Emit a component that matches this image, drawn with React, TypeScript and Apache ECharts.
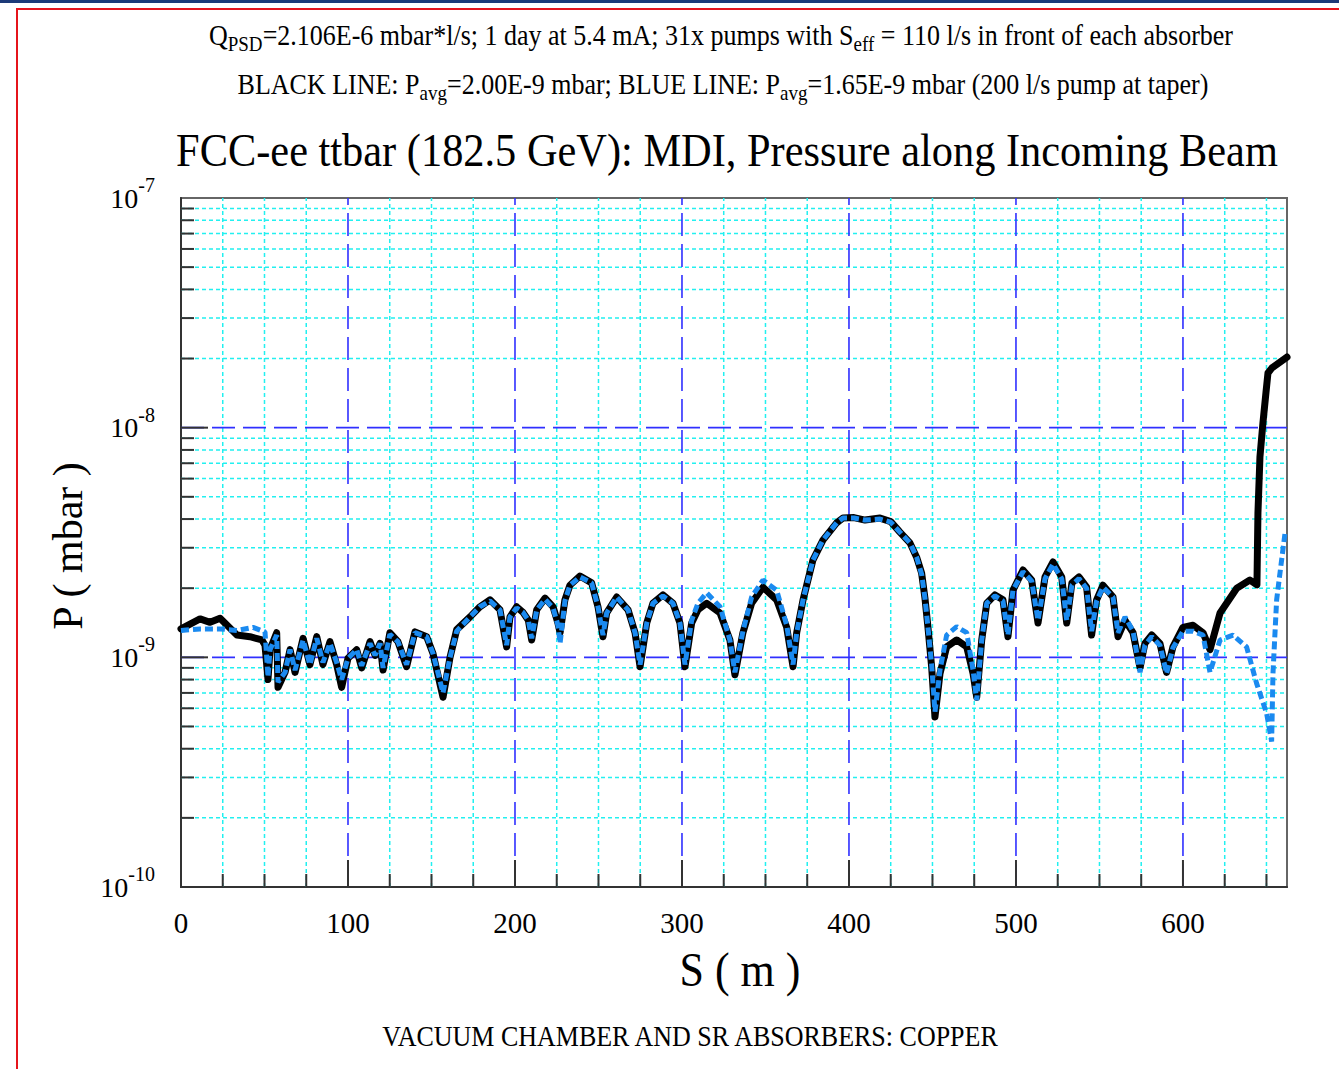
import React, { useEffect, useRef } from "react";
import * as echarts from "echarts";

// ---------- data (S in m, P in units of 1e-9 mbar) ----------
const S_BLACK = [
  0, 11.4, 17.4, 23.4, 33.5, 41.3, 48.5, 50.3, 52.1, 53.3, 57.3, 58.1, 62.3, 65.3, 68.3, 73.1, 77.2, 81.3, 85.0, 89.2,
  93.2, 96.2, 100.0, 105.2, 108.2, 113.2, 116.2, 119.2, 121.0, 125.1, 129.9, 135.1, 140.1, 147.1, 150.9, 156.9, 161.1,
  165.1, 173.1, 179.0, 185.0, 191.0, 195.0, 197.0, 201.0, 204.8, 208.0, 210.0, 213.0, 218.0, 222.8, 225.7, 227.0, 229.9,
  232.9, 238.9, 245.9, 249.7, 252.7, 254.9, 260.9, 267.7, 271.9, 274.9, 278.9, 282.6, 288.6, 294.6, 298.8, 301.8, 305.8,
  309.6, 314.8, 322.8, 328.7, 331.7, 336.5, 341.7, 348.5, 356.7, 362.7, 366.5, 368.7, 372.5, 378.4, 384.4, 392.6, 396.4,
  403.0, 409.6, 418.6, 425.0, 430.5, 436.5, 440.5, 443.5, 445.5, 447.3, 449.5, 451.5, 454.5, 458.5, 464.5, 470.5, 474.3,
  476.5, 479.5, 482.5, 487.4, 492.2, 495.2, 498.2, 504.2, 509.4, 513.2, 517.4, 522.2, 527.4, 530.4, 533.5, 537.7, 542.3,
  545.3, 548.3, 552.1, 558.1, 561.1, 565.3, 570.1, 574.3, 577.2, 581.3, 586.2, 590.2, 594.0, 600.0, 606.0, 612.0, 616.2,
  622.2, 632.2, 640.1, 644.3, 644.9, 646.1, 647.9, 649.7, 650.9, 653.3, 662.3,
];
const P_BLACK_E9 = [
  1.33, 1.47, 1.42, 1.48, 1.25, 1.23, 1.19, 1.13, 0.80, 1.08, 1.28, 0.74, 0.86, 1.08, 0.86, 1.21, 0.93, 1.23, 0.93, 1.17,
  0.93, 0.74, 0.99, 1.08, 0.90, 1.17, 1.02, 1.15, 0.88, 1.28, 1.17, 0.91, 1.29, 1.23, 1.04, 0.67, 1.00,
  1.32, 1.50, 1.66, 1.78, 1.61, 1.11, 1.50, 1.66, 1.57, 1.45, 1.19, 1.61, 1.81, 1.66, 1.41, 1.28, 1.78,
  2.06, 2.26, 2.11, 1.66, 1.23, 1.56, 1.83, 1.61, 1.28, 0.91, 1.41, 1.72, 1.87, 1.72, 1.41, 0.91, 1.41,
  1.61, 1.72, 1.56, 1.19, 0.84, 1.28, 1.72, 2.02, 1.78, 1.35, 0.91, 1.28, 1.78, 2.65, 3.24, 3.85, 4.04,
  4.06, 3.96, 4.04, 3.90, 3.51, 3.15, 2.73, 2.33, 1.81, 1.35, 0.91, 0.55, 0.85, 1.11, 1.19, 1.11, 0.85,
  0.67, 1.19, 1.72, 1.87, 1.78, 1.23, 1.96, 2.40, 2.17, 1.41, 2.24, 2.60, 2.24, 1.41, 2.11, 2.24, 2.02,
  1.25, 1.78, 2.06, 1.83, 1.23, 1.45, 1.28, 0.90, 1.15, 1.25, 1.15, 0.86, 1.11, 1.35, 1.38, 1.28, 1.08,
  1.56, 2.00, 2.17, 2.07, 4.25, 7.45, 10.5, 14.2, 17.3, 18.2, 20.3,
];
const S_BLUE = [
  0, 11.4, 23.4, 33.5, 43.1, 50.3, 52.1, 53.3, 57.3, 58.1, 62.3, 65.3, 68.3, 73.1, 77.2, 81.3, 85.0, 89.2,
  93.2, 96.2, 100.0, 105.2, 108.2, 113.2, 116.2, 119.2, 121.0, 125.1, 129.9, 135.1, 140.1, 147.1, 150.9, 156.9, 161.1,
  165.1, 173.1, 179.0, 185.0, 191.0, 195.0, 197.0, 201.0, 204.8, 208.0, 210.0, 213.0, 218.0, 222.8, 225.7, 227.0, 229.9,
  232.9, 238.9, 245.9, 249.7, 252.7, 254.9, 260.9, 267.7, 271.9, 274.9, 278.9, 282.6, 288.6, 294.6, 298.8, 301.8, 305.8,
  309.6, 314.8, 322.8, 328.7, 331.7, 336.5, 341.7, 348.5, 356.7, 362.7, 366.5, 368.7, 372.5, 378.4, 384.4, 392.6, 396.4,
  403.0, 409.6, 418.6, 425.0, 430.5, 436.5, 440.5, 443.5, 445.5, 447.3, 449.5, 451.5, 454.5, 458.5, 464.5, 470.5, 474.3,
  476.5, 479.5, 482.5, 487.4, 492.2, 495.2, 498.2, 504.2, 509.4, 513.2, 517.4, 522.2, 527.4, 530.4, 533.5, 537.7, 542.3,
  545.3, 548.3, 552.1, 558.1, 561.1, 565.3, 570.1, 574.3, 577.2, 581.3, 586.2, 590.2, 594.0, 600.0, 606.0, 612.0, 616.2,
  622.2, 630.0, 638.1, 644.1, 650.1, 653.1, 653.9, 656.1, 658.1, 661.1,
];
const P_BLUE_E9 = [
  1.31, 1.33, 1.33, 1.31, 1.35, 1.29, 0.82, 1.08, 1.25, 0.78, 0.86, 1.08, 0.88, 1.19, 0.93, 1.21, 0.95, 1.15,
  0.95, 0.80, 0.99, 1.08, 0.92, 1.15, 1.02, 1.15, 0.90, 1.26, 1.17, 0.93, 1.28, 1.23, 1.04, 0.70, 1.00,
  1.30, 1.50, 1.66, 1.76, 1.61, 1.13, 1.50, 1.64, 1.57, 1.45, 1.21, 1.61, 1.79, 1.64, 1.38, 1.15, 1.76,
  2.06, 2.24, 2.11, 1.66, 1.25, 1.56, 1.83, 1.61, 1.28, 0.93, 1.41, 1.72, 1.85, 1.72, 1.41, 0.93, 1.45,
  1.72, 1.91, 1.66, 1.19, 0.86, 1.30, 1.83, 2.17, 1.96, 1.38, 0.93, 1.28, 1.78, 2.65, 3.24, 3.85, 4.04,
  4.04, 3.96, 4.00, 3.88, 3.51, 3.15, 2.73, 2.30, 1.81, 1.35, 0.93, 0.58, 0.88, 1.25, 1.36, 1.28, 0.88,
  0.65, 1.19, 1.72, 1.85, 1.76, 1.25, 1.96, 2.36, 2.15, 1.45, 2.20, 2.55, 2.20, 1.45, 2.06, 2.20, 2.00,
  1.30, 1.76, 2.02, 1.83, 1.28, 1.50, 1.30, 0.86, 1.13, 1.23, 1.13, 0.85, 1.10, 1.30, 1.30, 1.25, 0.86,
  1.19, 1.25, 1.11, 0.77, 0.57, 0.43, 0.85, 1.78, 2.33, 3.47,
];

const X_MAJOR = [100, 200, 300, 400, 500, 600];
const X_MINOR = [25, 50, 75, 125, 150, 175, 225, 250, 275, 325, 350, 375, 425, 450, 475, 525, 550, 575, 625, 650];
const Y_MAJOR = [1e-9, 1e-8];
const Y_MINOR = [
  2e-10, 3e-10, 4e-10, 5e-10, 6e-10, 7e-10, 8e-10, 9e-10,
  2e-9, 3e-9, 4e-9, 5e-9, 6e-9, 7e-9, 8e-9, 9e-9,
  2e-8, 3e-8, 4e-8, 5e-8, 6e-8, 7e-8, 8e-8, 9e-8,
];
const X_MIN = 0;
const X_MAX = 662.3;
const Y_MIN = 1e-10;
const Y_MAX = 1e-7;

const SERIF = "'Liberation Serif', 'Times New Roman', serif";

function lineEl(a: number[], b: number[], style: any) {
  return { type: "line", shape: { x1: a[0], y1: a[1], x2: b[0], y2: b[1] }, style };
}

function vGrid(values: number[], style: any, z: number) {
  return {
    type: "custom",
    silent: true,
    z,
    data: values.map((v) => [v, Y_MIN]),
    renderItem: (_p: any, api: any) => {
      const v = api.value(0);
      return lineEl(api.coord([v, Y_MIN]), api.coord([v, Y_MAX]), style);
    },
  };
}
function hGrid(values: number[], style: any, z: number) {
  return {
    type: "custom",
    silent: true,
    z,
    data: values.map((v) => [X_MIN, v]),
    renderItem: (_p: any, api: any) => {
      const v = api.value(1);
      return lineEl(api.coord([X_MIN, v]), api.coord([X_MAX, v]), style);
    },
  };
}
const TICK_STYLE = { stroke: "#333", lineWidth: 2 };
function xTicks(values: number[], len: number) {
  return {
    type: "custom",
    silent: true,
    z: 6,
    clip: false,
    data: values.map((v) => [v, Y_MIN]),
    renderItem: (_p: any, api: any) => {
      const a = api.coord([api.value(0), Y_MIN]);
      return lineEl(a, [a[0], a[1] - len], TICK_STYLE);
    },
  };
}
function yTicks(values: number[], len: number) {
  return {
    type: "custom",
    silent: true,
    z: 6,
    clip: false,
    data: values.map((v) => [X_MIN, v]),
    renderItem: (_p: any, api: any) => {
      const a = api.coord([X_MIN, api.value(1)]);
      return lineEl(a, [a[0] + len, a[1]], TICK_STYLE);
    },
  };
}

function txt(x: number, y: number, text: string, fontSize: number, scaleY: number, extra: any = {}) {
  return {
    type: "text",
    x,
    y,
    scaleY,
    silent: true,
    ...extra,
    style: {
      text,
      fontFamily: SERIF,
      fontSize,
      lineHeight: Math.round(fontSize * 1.3),
      fill: "#000",
      align: "center",
      verticalAlign: "middle",
      rich: {
        sub: {
          fontSize: Math.round(fontSize * 0.74),
          lineHeight: Math.round(fontSize * 0.78),
          verticalAlign: "bottom",
          fontFamily: SERIF,
          fill: "#000",
        },
      },
    },
  };
}

export default function App() {
  const ref = useRef<HTMLDivElement>(null);
  useEffect(() => {
    if (!ref.current) return;
    const chart = echarts.init(ref.current, undefined, { renderer: "svg" });
    const black = S_BLACK.map((s, i) => [s, P_BLACK_E9[i] * 1e-9]);
    const blue = S_BLUE.map((s, i) => [s, P_BLUE_E9[i] * 1e-9]);
    const cyan = { stroke: "#22f0f0", lineWidth: 1.5, lineDash: [4, 3] };
    const major = { stroke: "#3030ff", lineWidth: 1.6, lineDash: [23, 8] };

    chart.setOption({
      animation: false,
      backgroundColor: "#ffffff",
      grid: {
        left: 181,
        top: 198,
        right: 52,
        bottom: 182,
        show: true,
        borderColor: "#666",
        borderWidth: 2,
        backgroundColor: "transparent",
        containLabel: false,
        outerBoundsMode: "none",
      },
      xAxis: {
        type: "value",
        min: X_MIN,
        max: X_MAX,
        interval: 100,
        axisLine: { show: true, onZero: false, lineStyle: { color: "#333", width: 2 } },
        axisTick: { show: false },
        splitLine: { show: false },
        axisLabel: {
          showMaxLabel: false,
          margin: 21,
          color: "#000",
          fontFamily: SERIF,
          fontSize: 29,
        },
      },
      yAxis: {
        type: "log",
        logBase: 10,
        min: Y_MIN,
        max: Y_MAX,
        axisLine: { show: true, lineStyle: { color: "#333", width: 2 } },
        axisTick: { show: false },
        splitLine: { show: false },
        axisLabel: {
          margin: 26,
          color: "#000",
          formatter: (v: number) => `{b|10}{s|${Math.round(Math.log10(v))}}`,
          rich: {
            b: { fontSize: 28, lineHeight: 46, fontFamily: SERIF, color: "#000" },
            s: { fontSize: 20, lineHeight: 20, verticalAlign: "top", fontFamily: SERIF, color: "#000" },
          },
        },
      },
      series: [
        vGrid(X_MINOR, cyan, 1),
        hGrid(Y_MINOR, cyan, 1),
        vGrid(X_MAJOR, major, 2),
        hGrid(Y_MAJOR, major, 2),
        xTicks(X_MINOR, 13),
        xTicks(X_MAJOR, 27),
        yTicks(Y_MINOR, 13),
        yTicks(Y_MAJOR, 27),
        {
          type: "line",
          name: "BLACK LINE",
          data: black,
          z: 3,
          symbol: "none",
          silent: true,
          lineStyle: { color: "#000", width: 7, join: "round", cap: "round" },
        },
        {
          type: "line",
          name: "BLUE LINE",
          data: blue,
          z: 4,
          symbol: "none",
          silent: true,
          lineStyle: { color: "#1a8af0", width: 5, type: [8, 4] },
        },
      ],
      graphic: [
        { type: "rect", shape: { x: 0, y: 0, width: 1339, height: 3 }, style: { fill: "#1d3a78" }, silent: true },
        { type: "rect", shape: { x: 16, y: 8, width: 1323, height: 2 }, style: { fill: "#e5141b" }, silent: true },
        { type: "rect", shape: { x: 16, y: 8, width: 2, height: 1061 }, style: { fill: "#e5141b" }, silent: true },
        txt(
          721,
          35,
          "Q{sub|PSD}=2.106E-6 mbar*l/s; 1 day at 5.4 mA; 31x pumps with S{sub|eff} = 110 l/s in front of each absorber",
          26,
          1.12
        ),
        txt(
          723,
          84,
          "BLACK LINE: P{sub|avg}=2.00E-9 mbar; BLUE LINE: P{sub|avg}=1.65E-9 mbar (200 l/s pump at taper)",
          26,
          1.12
        ),
        txt(727, 150, "FCC-ee ttbar (182.5 GeV): MDI, Pressure along Incoming Beam", 42.4, 1.12),
        txt(740, 970, "S ( m )", 44, 1.08),
        txt(68, 546, "P ( mbar )", 42, 1, { rotation: Math.PI / 2 }),
        txt(690, 1036, "VACUUM CHAMBER AND SR ABSORBERS: COPPER", 26, 1.12),
      ],
    });
    return () => chart.dispose();
  }, []);
  return (
    <div
      ref={ref}
      style={{ position: "absolute", left: 0, top: 0, width: 1339, height: 1069, background: "#fff" }}
    />
  );
}
